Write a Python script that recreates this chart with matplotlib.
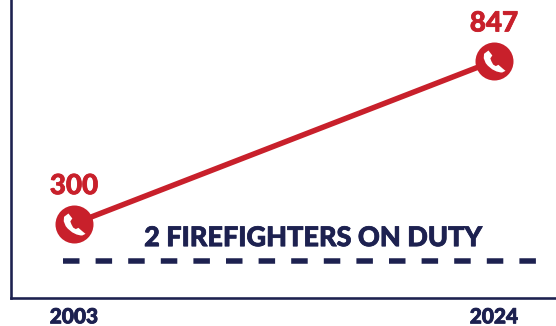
import matplotlib
matplotlib.use('Agg')
import matplotlib.pyplot as plt
import matplotlib.patheffects as pe
from matplotlib.path import Path

years = [2003, 2024]
calls = [300, 847]
year_labels = ['2003', '2024']
duty_level = 174
duty_label = '2 FIREFIGHTERS ON DUTY'

RED = '#C8202B'
NAVY = '#1D2150'
PX = 0.72  # one pixel in points at dpi 100

plt.rcParams['font.family'] = 'Lato'
plt.rcParams['font.weight'] = 900

# phone handset icon, drawn as a marker (y up, centred on the circle)
handset = Path(
    [(-0.55, 1.00), (-0.20, 0.55), (-0.38, 0.28), (-0.32, 0.05), (-0.12, -0.28),
     (0.12, -0.42), (0.35, -0.30), (0.72, -0.62), (1.00, -0.85), (0.70, -1.00),
     (0.30, -1.00), (-0.30, -0.80), (-0.80, -0.15), (-0.98, 0.30), (-0.95, 0.70),
     (-0.55, 1.00)],
    [Path.MOVETO, Path.LINETO, Path.LINETO, Path.CURVE3, Path.CURVE3,
     Path.LINETO, Path.LINETO, Path.LINETO, Path.LINETO, Path.LINETO,
     Path.CURVE4, Path.CURVE4, Path.CURVE4, Path.LINETO, Path.LINETO,
     Path.CLOSEPOLY])


def thicken(color, width=0.55):
    # Lato Black is still lighter than the original lettering
    return [pe.withStroke(linewidth=width, foreground=color)]


fig = plt.figure(figsize=(5.56, 3.26), dpi=100)
ax = fig.add_axes([10.5 / 556, 1 - 298.3 / 326, 1 - 10.5 / 556, 298.3 / 326])

ax.set_xlim(1999.825, 2027.1)
ax.set_ylim(49, 1052)

# reference level
ax.plot([2002.45, 2026.1], [duty_level, duty_level], color=NAVY, linewidth=5.5 * PX,
        dashes=(16.5 / 5.5, 16.1 / 5.5), dash_capstyle='butt')
ax.annotate(duty_label, (2015, duty_level), xytext=(-1 * PX, 23 * PX), textcoords='offset points',
            ha='center', va='center', fontsize=19.5, color=NAVY, path_effects=thicken(NAVY))

# calls line
ax.plot(years, calls, color=RED, linewidth=5.5 * PX, solid_capstyle='butt', zorder=3)
ax.plot(years, calls, linestyle='none', marker='o', markersize=38 * PX, color=RED,
        markeredgewidth=0, zorder=4)
ax.plot(years, calls, linestyle='none', marker=handset, markersize=22 * PX, color='white',
        markeredgewidth=0, zorder=5)

for year, value in zip(years, calls):
    ax.annotate(str(value), (year, value), xytext=(0, 37.5 * PX), textcoords='offset points',
                ha='center', va='center', fontsize=20, color=RED, path_effects=thicken(RED))

ax.set_xticks(years)
ax.set_xticklabels(year_labels, fontsize=15, color=NAVY, path_effects=thicken(NAVY, 0.6))
ax.tick_params(axis='x', length=0, pad=6.5)
ax.set_yticks([])

ax.spines['top'].set_visible(False)
ax.spines['right'].set_visible(False)
for side in ['left', 'bottom']:
    ax.spines[side].set_color(NAVY)
    ax.spines[side].set_linewidth(2.6 * PX)

fig.savefig('out.png', dpi=100)
